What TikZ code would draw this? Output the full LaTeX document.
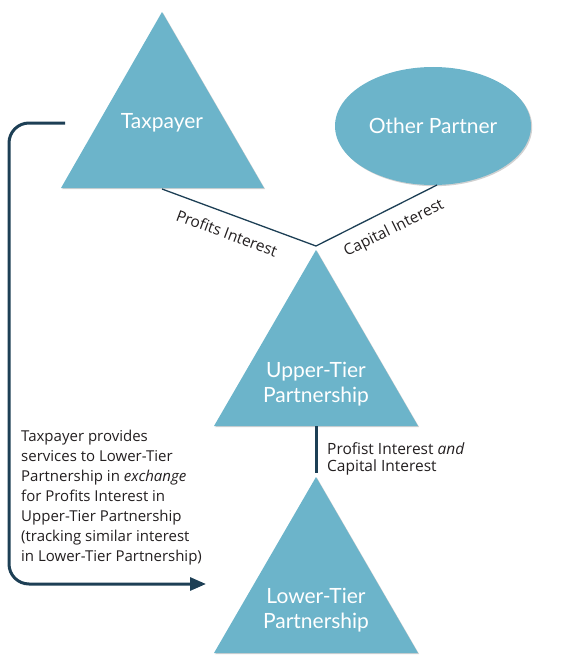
\documentclass[tikz,border=0pt]{standalone}
\usepackage{fontspec}
\setmainfont{Open Sans}
\newfontfamily\nodefont{Lato}
\usetikzlibrary{arrows.meta,shapes.geometric,shadows}
\definecolor{tri}{HTML}{6CB4CA}
\definecolor{link}{HTML}{1D3F55}
\definecolor{ink}{HTML}{231F20}
\tikzset{
  shape fill/.style={fill=tri, drop shadow={shadow xshift=1.2pt,shadow yshift=-1.2pt,fill=black!40,opacity=0.45}},
  entity/.style={text=white, font=\nodefont\fontsize{21}{25}\selectfont, align=center, inner sep=0pt},
  thinlink/.style={draw=link, line width=1.3pt},
  thicklink/.style={draw=link, line width=3pt},
  label/.style={text=ink, font=\fontsize{15.5}{17}\selectfont, inner sep=0pt},
  note/.style={text=ink, font=\fontsize{15}{20}\selectfont, align=left, inner sep=0pt},
}
\begin{document}
\begin{tikzpicture}[x=1pt,y=-1pt]
\useasboundingbox (0,0) rectangle (580,661);
% triangles
\path[shape fill] (162,12) -- (264,188) -- (61,188) -- cycle;
\path[shape fill] (316,250) -- (418,426) -- (214,426) -- cycle;
\path[shape fill] (316,477) -- (418,653) -- (214,653) -- cycle;
% ellipse
\node[ellipse, shape fill, minimum width=196pt, minimum height=118pt, inner sep=0pt] (other) at (433,126) {};
\node[entity] (otherlbl) at (other.center) {Other Partner};
% labels in triangles
\node[entity] (tp) at (162,123) {Taxpayer};
\node[entity] (ut) at (316,384) {Upper-Tier\\Partnership};
\node[entity] (lt) at (316,610) {Lower-Tier\\Partnership};
% anchor points
\coordinate (tpbase) at (162,189);
\coordinate (junc) at (316,246);
\coordinate (otherbot) at (437,185);
\coordinate (utbase) at (316,426);
\coordinate (ltapex) at (316,473);
% connectors
\draw[thinlink] (tpbase) -- (junc) -- (otherbot);
\draw[thicklink] (utbase) -- (ltapex);
\node[label, rotate=-20.3] (pilbl) at (227,233) {Profits Interest};
\node[label, rotate=26.4] (cilbl) at (394,229) {Capital Interest};
\node[label, anchor=north west, align=left] (picilbl) at (327,442) {Profist Interest \emph{and}\\Capital Interest};
% bracket arrow
\coordinate (bstart) at (65,123);
\coordinate (bend) at (206,584);
\draw[draw=link, line width=3pt, rounded corners=20pt, -{Triangle[length=16pt,width=13pt]}]
  (bstart) -- (9,123) -- (9,584) -- (bend);
\node[note, anchor=north west] (note) at (21,430) {Taxpayer provides\\services to Lower-Tier\\Partnership in \emph{exchange}\\for Profits Interest in\\Upper-Tier Partnership\\(tracking similar interest\\in Lower-Tier Partnership)};
\end{tikzpicture}
\end{document}
